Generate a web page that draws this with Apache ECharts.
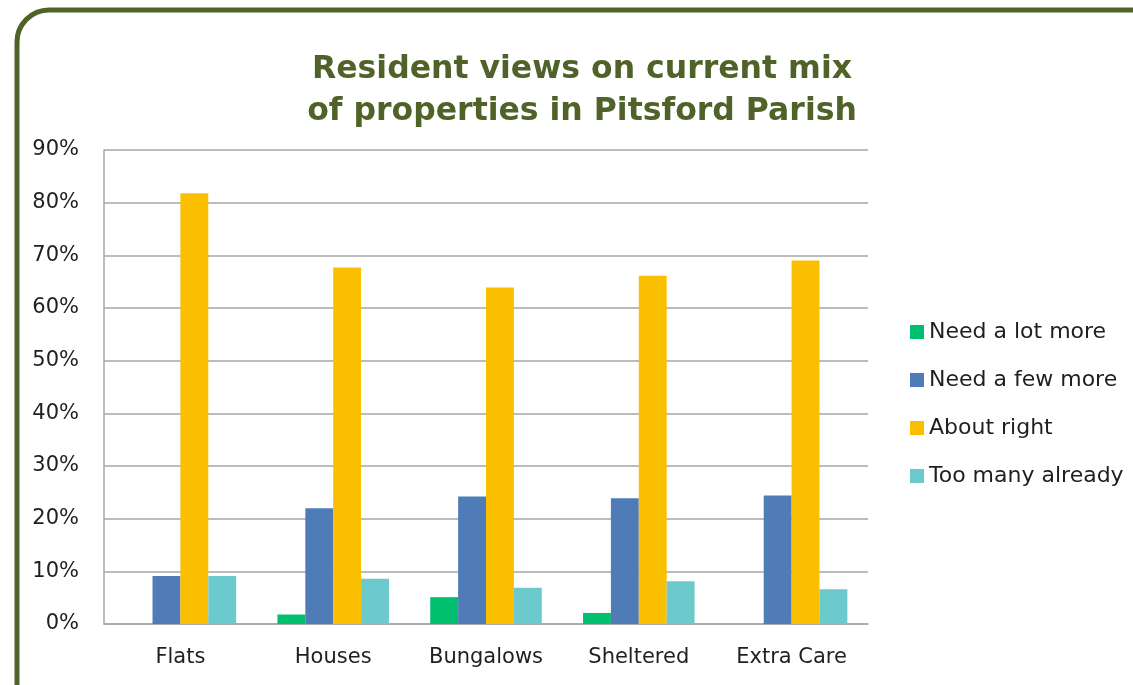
<!DOCTYPE html>
<html>
<head>
<meta charset="utf-8">
<script src="https://cdn.jsdelivr.net/npm/echarts@6/dist/echarts.min.js"></script>
<style>
  html, body { margin: 0; padding: 0; background: #fff; }
  #chart { width: 1133px; height: 685px; }
</style>
</head>
<body>
<div id="chart"></div>
<script>
const categories = ['Flats', 'Houses', 'Bungalows', 'Sheltered', 'Extra Care']
const needLotMore = [0, 1.8, 5.1, 2.1, 0]
const needFewMore = [9.1, 22.0, 24.2, 23.9, 24.4]
const aboutRight = [81.8, 67.7, 63.9, 66.1, 69.0]
const tooManyAlready = [9.1, 8.6, 6.9, 8.1, 6.6]

const olive = '#4F6228'
const textColor = '#1F1F1F'
const font = 'DejaVu Sans'

const chart = echarts.init(document.getElementById('chart'))

const barSeries = (name, data, color) => ({
  name: name,
  type: 'bar',
  data: data,
  barGap: '0%',
  barCategoryGap: '27%',
  itemStyle: { color: color }
})

const option = {
  animation: false,
  backgroundColor: '#fff',
  graphic: [
    {
      type: 'rect',
      z: -10,
      shape: { x: 17, y: 10, width: 1300, height: 800, r: 32 },
      style: { fill: 'none', stroke: olive, lineWidth: 5 }
    }
  ],
  title: {
    text: 'Resident views on current mix\nof properties in Pitsford Parish',
    left: 577,
    top: 44,
    textAlign: 'center',
    textStyle: {
      color: olive,
      fontFamily: font,
      fontWeight: 'bold',
      fontSize: 31.5,
      lineHeight: 42
    }
  },
  legend: {
    orient: 'vertical',
    left: 905,
    top: 316,
    itemWidth: 14,
    itemHeight: 14,
    itemGap: 26,
    icon: 'rect',
    textStyle: { color: textColor, fontFamily: font, fontSize: 22 },
    data: ['Need a lot more', 'Need a few more', 'About right', 'Too many already']
  },
  grid: {
    left: 104,
    right: 265,
    top: 150,
    bottom: 61
  },
  xAxis: {
    type: 'category',
    data: categories,
    axisLine: { lineStyle: { color: '#A6A6A6', width: 1.5 } },
    axisTick: { show: false },
    axisLabel: { color: textColor, fontFamily: font, fontSize: 21, margin: 23 }
  },
  yAxis: {
    type: 'value',
    min: 0,
    max: 90,
    interval: 10,
    axisLine: { show: true, lineStyle: { color: '#A6A6A6', width: 1.5 } },
    axisTick: { show: false },
    axisLabel: { color: textColor, fontFamily: font, fontSize: 21, margin: 25, formatter: '{value}%' },
    splitLine: { lineStyle: { color: '#A6A6A6', width: 1.5 } }
  },
  series: [
    barSeries('Need a lot more', needLotMore, '#00BF6F'),
    barSeries('Need a few more', needFewMore, '#4F7CB7'),
    barSeries('About right', aboutRight, '#F9BF00'),
    barSeries('Too many already', tooManyAlready, '#6CC9CC')
  ]
}

chart.setOption(option)
</script>
</body>
</html>
